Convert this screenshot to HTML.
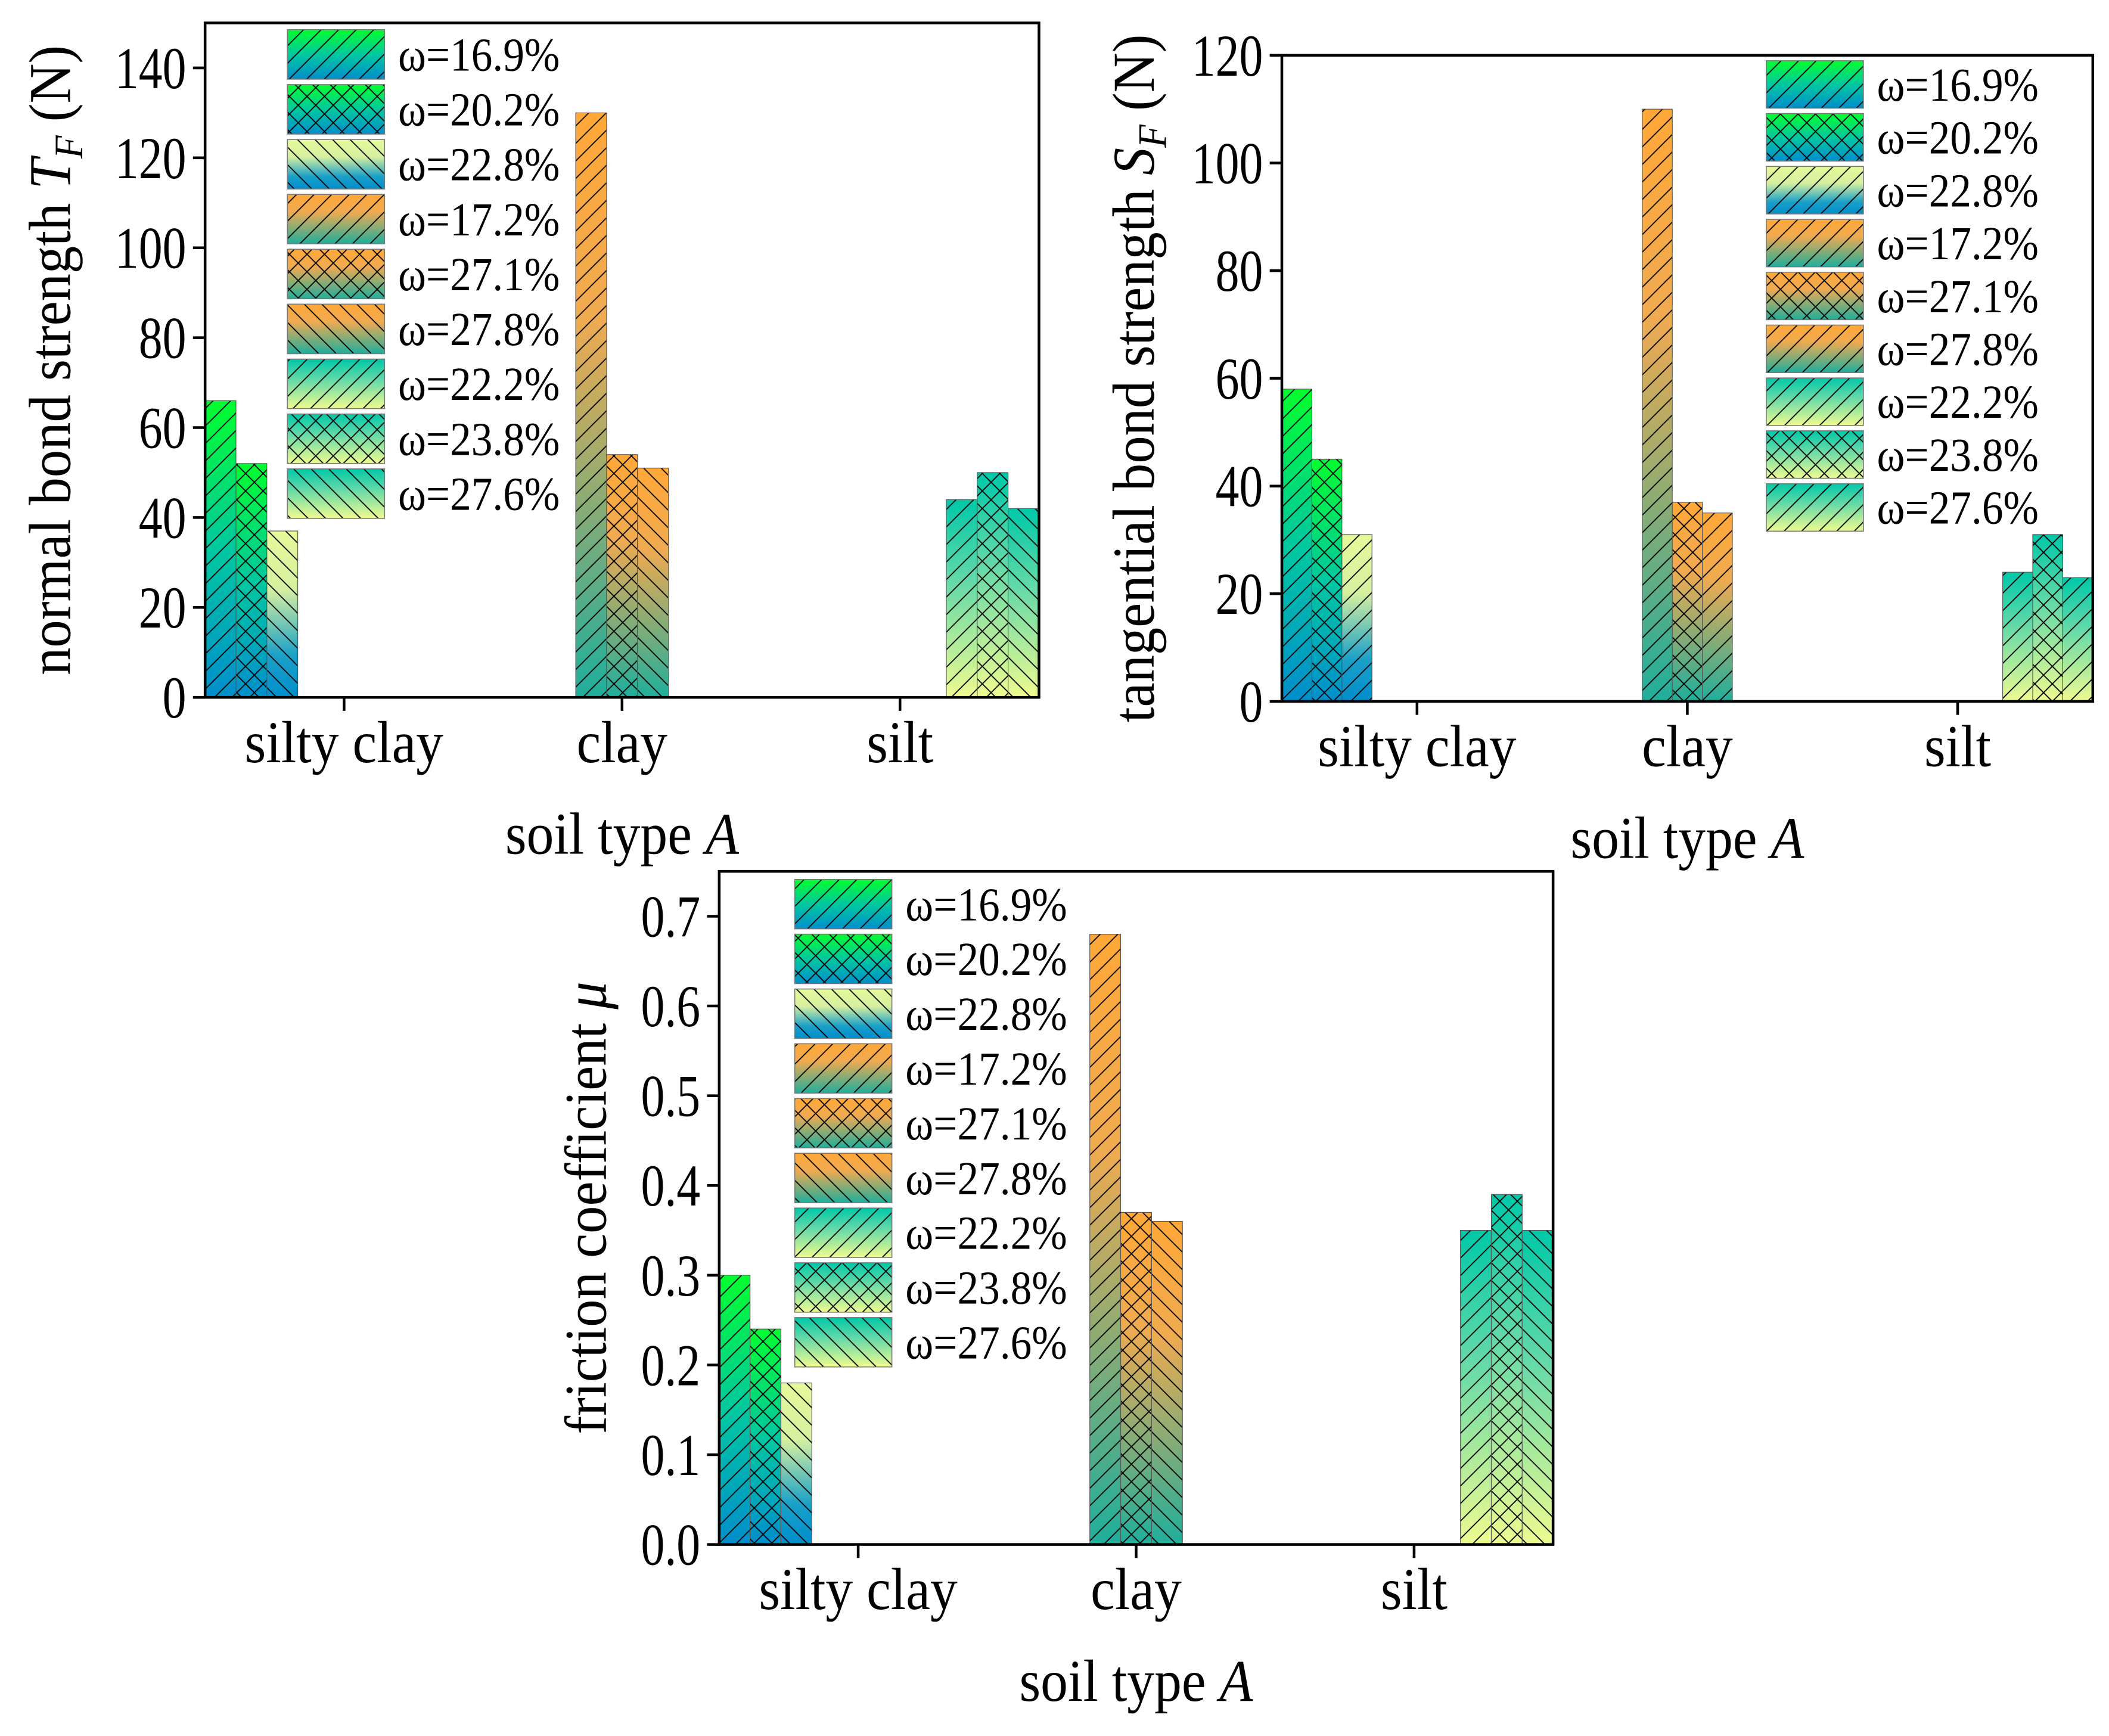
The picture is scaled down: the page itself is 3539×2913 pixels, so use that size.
<!DOCTYPE html>
<html><head><meta charset="utf-8"><style>
html,body{margin:0;padding:0;background:#fff;}
svg{display:block;}
text{font-family:"Liberation Serif",serif;fill:#000;}
</style></head><body>
<svg id="fig" width="3539" height="2913" viewBox="0 0 1563 1287" preserveAspectRatio="none" xmlns="http://www.w3.org/2000/svg">
<defs>
<linearGradient id="g1" x1="0" y1="0" x2="0" y2="1"><stop offset="0" stop-color="#00ff2e"/><stop offset="0.5" stop-color="#00c8a0"/><stop offset="1" stop-color="#008ecc"/></linearGradient>
<linearGradient id="g3" x1="0" y1="0" x2="0" y2="1"><stop offset="0" stop-color="#e6f99a"/><stop offset="0.35" stop-color="#d6f0a0"/><stop offset="0.75" stop-color="#1aa0c8"/><stop offset="1" stop-color="#008ecc"/></linearGradient>
<linearGradient id="g4" x1="0" y1="0" x2="0" y2="1"><stop offset="0" stop-color="#ffa838"/><stop offset="0.35" stop-color="#f0aa50"/><stop offset="1" stop-color="#1fae9c"/></linearGradient>
<linearGradient id="g7" x1="0" y1="0" x2="0" y2="1"><stop offset="0" stop-color="#00c8a8"/><stop offset="0.4" stop-color="#60d8a8"/><stop offset="1" stop-color="#eefb90"/></linearGradient>
<pattern id="hs" patternUnits="userSpaceOnUse" width="13" height="13"><path d="M0,13 L13,0 M-3,3 L3,-3 M10,16 L16,10" stroke="#000" stroke-width="0.8"/></pattern>
<pattern id="hb" patternUnits="userSpaceOnUse" width="13" height="13"><path d="M0,0 L13,13 M-3,10 L3,16 M10,-3 L16,3" stroke="#000" stroke-width="0.8"/></pattern>
<pattern id="hx" patternUnits="userSpaceOnUse" width="13" height="13"><path d="M0,13 L13,0 M0,0 L13,13" stroke="#000" stroke-width="0.8"/></pattern>
</defs>
</svg>
<script>
const categories = ["silty clay","clay","silt"];
const seriesLabels = ["ω=16.9%","ω=20.2%","ω=22.8%","ω=17.2%","ω=27.1%","ω=27.8%","ω=22.2%","ω=23.8%","ω=27.6%"];
const tfValues = [66,52,37,130,54,51,44,50,42];
const sfValues = [58,45,31,110,37,35,24,31,23];
const muValues = [0.30,0.24,0.18,0.68,0.37,0.36,0.35,0.39,0.35];
const tfTicks = ["0","20","40","60","80","100","120","140"];
const sfTicks = ["0","20","40","60","80","100","120"];
const muTicks = ["0.0","0.1","0.2","0.3","0.4","0.5","0.6","0.7"];

const NS="http://www.w3.org/2000/svg";
const svg=document.getElementById('fig');
const grads=["g1","g1","g3","g4","g4","g4","g7","g7","g7"];
function mk(tag,attrs,parent){const e=document.createElementNS(NS,tag);for(const k in attrs)e.setAttribute(k,attrs[k]);(parent||svg).appendChild(e);return e;}
function txt(parent,x,y,anchor,size,sx,rot){
  const tr='translate('+x+','+y+')'+(rot?' rotate(-90)':'')+' scale('+sx+',1)';
  return mk('text',{x:0,y:0,'text-anchor':anchor,'font-size':size,transform:tr},parent);
}

function chart(cfg){
  const g=mk('g',{});
  
  
  const {L,R,T,B,ymax,values,ticks,tickStep}=cfg;
  const y=v=>B-(v/ymax)*(B-T);
  const step=(R-L)/3;
  const bw=step/9;
  const x=(ci,si)=>L+ci*step+si*bw;
  values.forEach((v,i)=>{
    const ci=Math.floor(i/3);
    for(const fill of ['url(#'+grads[i]+')','url(#'+cfg.hatch[i]+')']){
      const r=mk('rect',{x:x(ci,i),y:y(v),width:bw,height:B-y(v),fill:fill,stroke:fill.indexOf('#h')>0?'#555':'none','stroke-width':0.5},g);
      
      
    }
  });
  const f=mk('rect',{x:L,y:T,width:R-L,height:B-T,fill:'none',stroke:'#000','stroke-width':2},g);
  
  
  ticks.forEach((t,i)=>{
    const yy=y(i*tickStep);
    mk('line',{x1:L-9,x2:L,y1:yy,y2:yy,stroke:'#000','stroke-width':2},g);
    const tx=txt(g,L-14,yy+15,'end',44,0.8);
    tx.textContent=t;
    
    
  });
  categories.forEach((c,ci)=>{
    const cx=L+ci*step+step/2;
    mk('line',{x1:cx,x2:cx,y1:B,y2:B+10,stroke:'#000','stroke-width':2},g);
    const tx=txt(g,cx,B+48,'middle',44,0.92);
    tx.textContent=c;
    
    
  });
  const xt=txt(g,L+step*1.5,B+116,'middle',44,0.92);
  xt.innerHTML='soil type <tspan font-style="italic">A</tspan>';
  
  
  const yt=txt(g,cfg.ytx,(T+B)/2,'middle',44,0.93,true);
  yt.innerHTML=cfg.ytitle;
  
  
  seriesLabels.forEach((s,i)=>{
    const ly=cfg.lgY+i*cfg.lgStep;
    const lg=mk('g',{},g);
    
    
    mk('rect',{x:cfg.lgX,y:ly,width:72,height:cfg.lgStep-4,fill:'url(#'+grads[i]+')'},lg);
    mk('rect',{x:cfg.lgX,y:ly,width:72,height:cfg.lgStep-4,fill:'url(#'+cfg.hatch[i]+')',stroke:'#777','stroke-width':0.7},lg);
    const t=txt(lg,cfg.lgX+82,ly+cfg.lgStep/2+10,'start',35,0.9);
    t.textContent=s;
  });
}
chart({name:'normal-bond-chart',L:152,R:770,T:17,B:517,ymax:150,values:tfValues,ticks:tfTicks,tickStep:20,
  ytx:52,ytitle:'normal bond strength <tspan font-style="italic">T</tspan><tspan font-style="italic" font-size="30" dy="9">F</tspan><tspan dy="-9"> (N)</tspan>',
  lgX:213,lgY:22,lgStep:40.7,hatch:['hs','hx','hb','hs','hx','hb','hs','hx','hb']});
chart({name:'tangential-bond-chart',L:950,R:1551,T:41,B:520,ymax:120,values:sfValues,ticks:sfTicks,tickStep:20,
  ytx:855,ytitle:'tangential bond strength <tspan font-style="italic">S</tspan><tspan font-style="italic" font-size="30" dy="9">F</tspan><tspan dy="-9"> (N)</tspan>',
  lgX:1309,lgY:45,lgStep:39.2,hatch:['hs','hx','hs','hs','hx','hs','hs','hx','hs']});
chart({name:'friction-coefficient-chart',L:533,R:1151,T:646,B:1145,ymax:0.75,values:muValues,ticks:muTicks,tickStep:0.1,
  ytx:449,ytitle:'friction coefficient <tspan font-style="italic">μ</tspan>',
  lgX:589,lgY:652,lgStep:40.6,hatch:['hs','hx','hb','hs','hx','hb','hs','hx','hb']});
</script>
</body></html>
